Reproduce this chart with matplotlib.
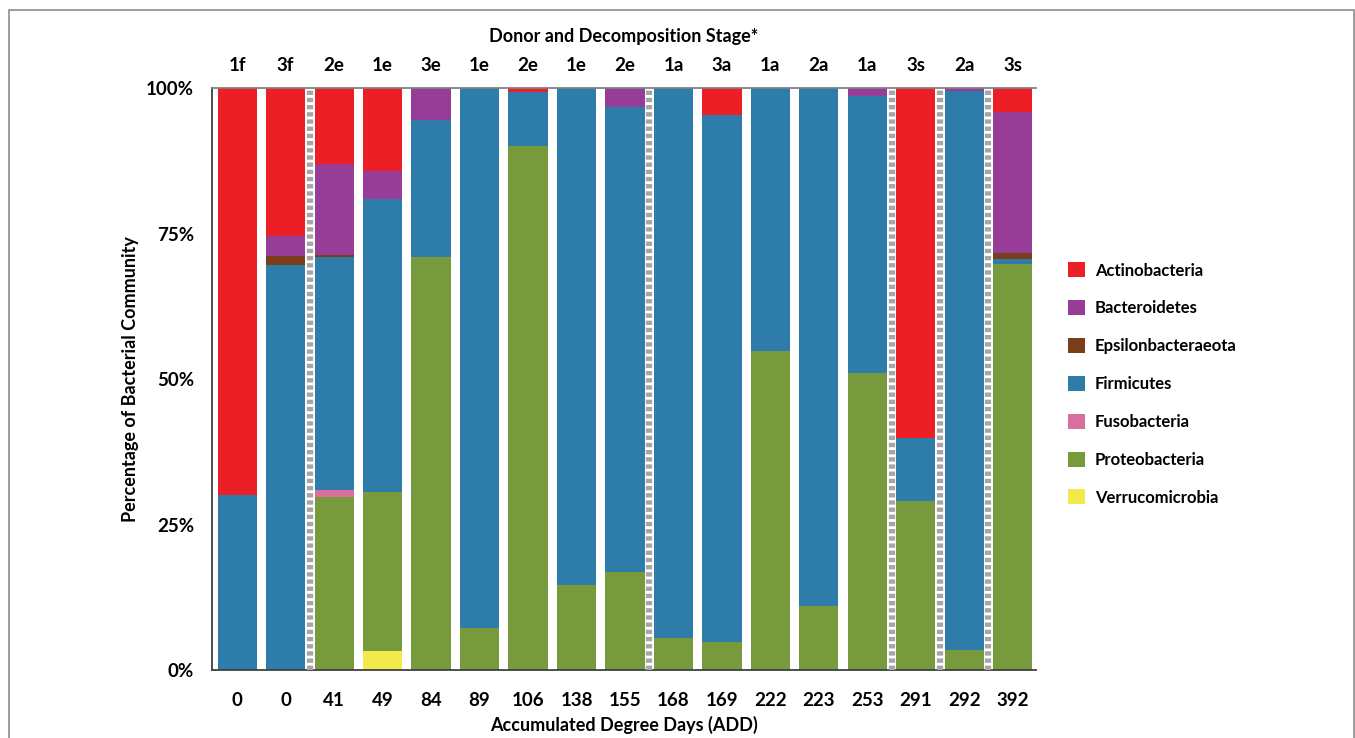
import matplotlib
matplotlib.use("Agg")
import matplotlib.pyplot as plt
import matplotlib.patches as mpatches
import numpy as np

plt.rcParams['font.family'] = ['Lato', 'DejaVu Sans']
plt.rcParams['font.weight'] = 'bold'

stages = ["1f", "3f", "2e", "1e", "3e", "1e", "2e", "1e", "2e", "1a", "3a", "1a", "2a", "1a", "3s", "2a", "3s"]
add = ["0", "0", "41", "49", "84", "89", "106", "138", "155", "168", "169", "222", "223", "253", "291", "292", "392"]

# stacked bottom to top
verrucomicrobia = [0, 0, 0, 3.3, 0, 0, 0, 0, 0, 0, 0, 0, 0, 0, 0, 0, 0]
proteobacteria = [0, 0, 29.7, 27.3, 71.0, 7.2, 90.0, 14.6, 16.8, 5.5, 4.8, 54.8, 11.0, 51.0, 29.0, 3.4, 69.8]
fusobacteria = [0, 0, 1.3, 0, 0, 0, 0, 0, 0, 0, 0, 0, 0, 0, 0, 0, 0]
firmicutes = [30.1, 69.6, 40.0, 50.3, 23.5, 92.8, 9.3, 85.4, 79.9, 94.5, 90.6, 45.2, 89.0, 47.6, 10.9, 96.1, 0.8]
epsilonbacteraeota = [0, 1.5, 0.3, 0, 0, 0, 0, 0, 0, 0, 0, 0, 0, 0, 0, 0, 1.0]
bacteroidetes = [0, 3.5, 15.6, 4.8, 5.5, 0, 0, 0, 3.3, 0, 0, 0, 0, 1.4, 0, 0.5, 24.2]
actinobacteria = [69.9, 25.4, 13.1, 14.3, 0, 0, 0.7, 0, 0, 0, 4.6, 0, 0, 0, 60.1, 0, 4.2]

separators_after = [1, 8, 13, 14, 15]

series = [
    ("Verrucomicrobia", verrucomicrobia, "#F2EA4A"),
    ("Proteobacteria", proteobacteria, "#779A3D"),
    ("Fusobacteria", fusobacteria, "#D8709F"),
    ("Firmicutes", firmicutes, "#2E7CAA"),
    ("Epsilonbacteraeota", epsilonbacteraeota, "#7A3E1B"),
    ("Bacteroidetes", bacteroidetes, "#983D97"),
    ("Actinobacteria", actinobacteria, "#EC1F26"),
]

fig = plt.figure(figsize=(13.55, 7.38), dpi=100)
ax = fig.add_axes([212/1355, 1-670/738, (1036-212)/1355, (670-88)/738])

x = np.arange(len(stages))
bottom = np.zeros(len(stages))
handles = {}
for name, vals, col in series:
    v = np.array(vals, dtype=float)
    b = ax.bar(x, v, bottom=bottom, width=0.81, color=col, edgecolor='none', zorder=2)
    handles[name] = b
    bottom += v

for i in separators_after:
    ax.axvline(i + 0.5, color='#A6A6A6', lw=4.5, linestyle=(0, (0.7, 0.45)), zorder=3)

ax.set_xlim(-0.52, 16.48)
ax.set_ylim(0, 100)
ax.set_yticks([0, 25, 50, 75, 100])
ax.set_yticklabels(["0%", "25%", "50%", "75%", "100%"])
ax.set_xticks(x)
ax.set_xticklabels(add)
ax.tick_params(axis='both', length=0, labelsize=13.5)
ax.tick_params(axis='x', pad=16)
ax.tick_params(axis='y', pad=13)
for s in ['left', 'bottom', 'top']:
    ax.spines[s].set_color('#404040')
    ax.spines[s].set_linewidth(1.3)
ax.spines['top'].set_color('#808080')
ax.spines['right'].set_visible(False)

ax.set_xlabel("Accumulated Degree Days (ADD)", fontsize=13, fontweight='bold', labelpad=5)
ax.set_ylabel("Percentage of Bacterial Community", fontsize=13, fontweight='bold', labelpad=5)

secax = ax.secondary_xaxis('top')
secax.set_xticks(x)
secax.set_xticklabels(stages)
secax.tick_params(length=0, labelsize=13.5, pad=10)
secax.spines['top'].set_visible(False)
secax.set_xlabel("Donor and Decomposition Stage*", fontsize=13, fontweight='bold', labelpad=11)

order = ["Actinobacteria", "Bacteroidetes", "Epsilonbacteraeota", "Firmicutes",
         "Fusobacteria", "Proteobacteria", "Verrucomicrobia"]
leg = fig.legend([handles[n] for n in order], order, loc='center left',
                 bbox_to_anchor=(1053/1355, 1-384/738), frameon=False,
                 fontsize=12, handlelength=1.0, handleheight=1.0,
                 labelspacing=1.3, handletextpad=0.6)
for t in leg.get_texts():
    t.set_fontweight('bold')

frame = mpatches.Rectangle((9/1355, -0.1), (1354-9)/1355, 1.1 - 10/738,
                           transform=fig.transFigure, fill=False,
                           edgecolor='#8C8C8C', lw=1.2, zorder=0)
fig.patches.append(frame)

fig.savefig("out.png", dpi=100)
